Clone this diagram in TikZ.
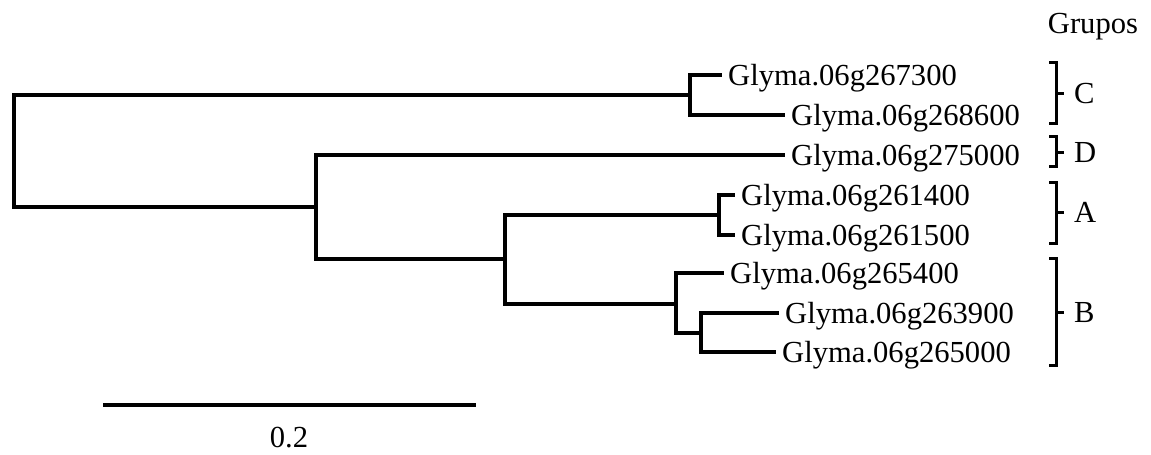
\documentclass[tikz,border=0pt]{standalone}
\usepackage{fontspec}
\setmainfont{Liberation Serif}
\begin{document}
\begin{tikzpicture}[x=1pt,y=-1pt,
  branch/.style={line width=4pt, line join=miter},
  brk/.style={line width=3pt, line join=miter},
  txt/.style={font=\fontsize{30.6}{36}\selectfont},
  leaf/.style={txt, anchor=west, inner xsep=6pt, inner ysep=0pt,
               text height=20pt, text depth=0pt},
  grp/.style={txt, anchor=west, inner xsep=10pt, inner ysep=0pt,
              text height=20pt, text depth=0pt}]
\useasboundingbox (0,0) rectangle (1151,455);

% internal nodes of the tree (x = branching bar, y = point on the bar)
\coordinate (r)    at (14,151);
\coordinate (nC)   at (690,95);
\coordinate (nDAB) at (316,207);
\coordinate (nAB)  at (505,259);
\coordinate (nA)   at (719,215);
\coordinate (nB)   at (676,304);
\coordinate (nB2)  at (701,333);

% leaf labels
\node[leaf] (lC1) at (722,75)  {Glyma.06g267300};
\node[leaf] (lC2) at (785,115) {Glyma.06g268600};
\node[leaf] (lD)  at (785,155) {Glyma.06g275000};
\node[leaf] (lA1) at (735,195) {Glyma.06g261400};
\node[leaf] (lA2) at (735,235) {Glyma.06g261500};
\node[leaf] (lB1) at (724,273) {Glyma.06g265400};
\node[leaf] (lB2) at (779,313) {Glyma.06g263900};
\node[leaf] (lB3) at (776,352) {Glyma.06g265000};

% branches
\draw[branch] (r) |- (nC);
\draw[branch] (r) |- (nDAB);
\draw[branch] (nC) |- (lC1.west);
\draw[branch] (nC) |- (lC2.west);
\draw[branch] (nDAB) |- (lD.west);
\draw[branch] (nDAB) |- (nAB);
\draw[branch] (nAB) |- (nA);
\draw[branch] (nAB) |- (nB);
\draw[branch] (nA) |- (lA1.west);
\draw[branch] (nA) |- (lA2.west);
\draw[branch] (nB) |- (lB1.west);
\draw[branch] (nB) |- (nB2);
\draw[branch] (nB2) |- (lB2.west);
\draw[branch] (nB2) |- (lB3.west);

% group brackets and letters
\node[txt, anchor=base] (head) at (1093,33) {Grupos};
\foreach \nm/\top/\bot/\mid/\lab in {gC/62/123/93/C, gD/136/166/152/D, gA/182/243/212/A, gB/258/365/312/B}{
  \draw[brk] (1049,\top) -- (1056,\top) -- (1056,\bot) -- (1049,\bot);
  \draw[brk] (1056,\mid) -- (1064,\mid);
  \node[grp] (\nm) at (1064,\mid) {\lab};
}

% scale bar
\coordinate (s0) at (103,405);
\coordinate (s1) at (476,405);
\draw[line width=4pt] (s0) -- (s1);
\node[txt, anchor=base, inner sep=0pt] (sl) at (289,447) {0.2};
\end{tikzpicture}
\end{document}
